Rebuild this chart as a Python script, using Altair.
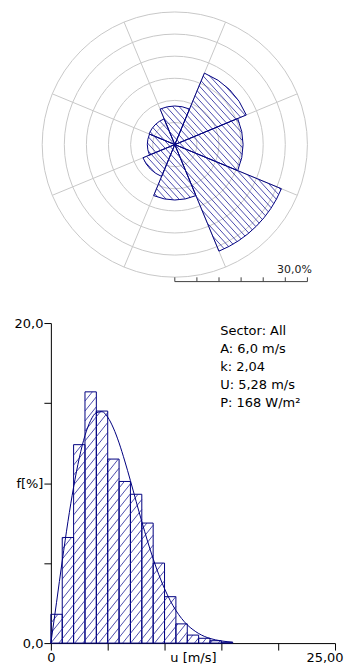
import math
import numpy as np
import pandas as pd
import altair as alt

# ---------------- data ----------------
# wind rose (8 sectors, frequency in %)
sector_names = ["N", "NE", "E", "SE", "S", "SW", "W", "NW"]
sector_centers = [0, 45, 90, 135, 180, 225, 270, 315]
sector_freq = [8.7, 17.5, 15.4, 26.1, 12.5, 7.8, 6.2, 6.3]
ring_values = [5, 10, 15, 20, 25, 30]
spoke_angles = [22.5, 67.5, 112.5, 157.5, 202.5, 247.5, 292.5, 337.5]
scale_ticks = [0, 5, 10, 15, 20, 25, 30]
scale_label = "30,0%"

# histogram of wind speed (1 m/s bins, frequency in %)
bin_start = [0, 1, 2, 3, 4, 5, 6, 7, 8, 9, 10, 11, 12, 13, 14, 15]
bin_end = [1, 2, 3, 4, 5, 6, 7, 8, 9, 10, 11, 12, 13, 14, 15, 16]
bin_freq = [1.8, 6.6, 12.4, 15.7, 14.5, 11.5, 10.1, 9.3, 7.5, 5.0, 2.9, 1.2, 0.5, 0.3, 0.15, 0.05]

# fitted curve
curve_u = [0, 0.5, 1, 1.5, 2, 2.5, 3, 3.5, 4, 4.5, 5, 5.5, 6, 6.5, 7, 7.5, 8, 8.5,
           9, 9.5, 10, 10.5, 11, 11.5, 12, 12.5, 13, 13.5, 14, 14.5, 15, 15.5, 16]
curve_f = [0, 2.55, 5.14, 7.58, 9.75, 11.57, 12.97, 13.91, 14.40, 14.46, 14.12, 13.44,
           12.51, 11.38, 10.15, 8.86, 7.59, 6.38, 5.27, 4.27, 3.40, 2.66, 2.04, 1.54,
           1.14, 0.84, 0.60, 0.42, 0.29, 0.20, 0.135, 0.09, 0.055]

info_lines = ["Sector: All", "A: 6,0 m/s", "k: 2,04", "U: 5,28 m/s", "P: 168 W/m²"]

x_ticks = [0, 5, 10, 15, 20, 25]
x_tick_labels = ["0", "", "", "", "", "25,00"]
x_title = "u [m/s]"
y_ticks = [0, 5, 10, 15, 20]
y_tick_labels = ["0,0", "", "f[%]", "", "20,0"]

# ---------------- styling / layout ----------------
NAVY = "#000080"
HATCH = "#1f1f99"
GRID = "#c8c8c8"
FONT = "DejaVu Sans"

ROSE_W, ROSE_H = 285, 280
R_MAX = 30.0
R_PX = 133.0
PX = R_PX / R_MAX
CX = 124.3
rose_x_dom = [-CX / PX, (ROSE_W - CX) / PX]
rose_y_dom = [R_MAX - ROSE_H / PX, R_MAX]
BAR_Y = -31.0

HIST_W, HIST_H = 285, 321
X_MAX, Y_MAX = 25, 20
SX = HIST_W / X_MAX
SY = HIST_H / Y_MAX


def cross(a, b):
    return a[0] * b[1] - a[1] * b[0]


def rose_hatch(centers, freqs, half=22.5, gap_px=6.5, slope=1.1):
    rows = []
    n = np.array([slope, 1.0])
    nlen = np.linalg.norm(n)
    nu = n / nlen
    d = np.array([1.0, -slope])
    d = d / np.linalg.norm(d)
    step = slope * gap_px / PX / nlen
    for c, f in zip(centers, freqs):
        a0 = math.radians(c - half)
        a1 = math.radians(c + half)
        u0 = np.array([math.sin(a0), math.cos(a0)])
        u1 = np.array([math.sin(a1), math.cos(a1)])
        kmax = int(f / step) + 1
        for k in range(-kmax, kmax + 1):
            dist = k * step
            if abs(dist) >= f:
                continue
            q = dist * nu
            hl = math.sqrt(f * f - dist * dist)
            lo, hi = -hl, hl
            for b, kk in ((cross(u0, q), cross(u0, d)), (cross(q, u1), cross(d, u1))):
                if abs(kk) < 1e-12:
                    if b > 0:
                        lo, hi = 1.0, 0.0
                elif kk > 0:
                    hi = min(hi, -b / kk)
                else:
                    lo = max(lo, -b / kk)
            if hi - lo > 1e-6:
                p1 = q + lo * d
                p2 = q + hi * d
                rows.append({"x": p1[0], "y": p1[1], "x2": p2[0], "y2": p2[1]})
    return pd.DataFrame(rows)


def hist_hatch(starts, ends, freqs, gap_px=10.0, slope=1.25):
    rows = []
    for u0, u1, f in zip(starts, ends, freqs):
        X0, X1, H = u0 * SX, u1 * SX, f * SY
        kmin = math.floor(-slope * X1 / gap_px)
        kmax = math.ceil((H - slope * X0) / gap_px)
        for k in range(kmin, kmax + 1):
            c = k * gap_px
            xa = max(X0, -c / slope)
            xb = min(X1, (H - c) / slope)
            if xb - xa > 0.3:
                rows.append({"x": xa / SX, "y": (slope * xa + c) / SY,
                             "x2": xb / SX, "y2": (slope * xb + c) / SY})
    return pd.DataFrame(rows)


def label_expr(values, labels):
    parts = [f"datum.value == {v} ? '{l}'" for v, l in zip(values, labels)]
    return " : ".join(parts) + " : ''"


# ---------------- wind rose ----------------
xs = alt.Scale(domain=rose_x_dom, nice=False, zero=False)
ys = alt.Scale(domain=rose_y_dom, nice=False, zero=False)
rs = alt.Scale(type="linear", domain=[0, R_MAX], range=[0, R_PX], zero=True, nice=False)
ts = alt.Scale(domain=[0, 360], range=[0, 2 * math.pi], zero=False, nice=False)

cx = alt.X(datum=0, scale=xs, axis=None)
cy = alt.Y(datum=0, scale=ys, axis=None)

rings_df = pd.DataFrame({"r": ring_values})
rings = alt.Chart(rings_df).mark_arc(
    filled=False, color=GRID, strokeWidth=1, theta=0, theta2=2 * math.pi
).encode(radius=alt.Radius("r:Q", scale=rs, stack=False), x=cx, y=cy)

spokes_df = pd.DataFrame({
    "x0": [0.0] * len(spoke_angles),
    "y0": [0.0] * len(spoke_angles),
    "x1": [R_MAX * math.sin(math.radians(a)) for a in spoke_angles],
    "y1": [R_MAX * math.cos(math.radians(a)) for a in spoke_angles],
})
spokes = alt.Chart(spokes_df).mark_rule(color=GRID, strokeWidth=1).encode(
    x=alt.X("x0:Q", scale=xs, axis=None), y=alt.Y("y0:Q", scale=ys, axis=None),
    x2="x1:Q", y2="y1:Q")

sec_df = pd.DataFrame({
    "sector": sector_names,
    "a0": [c - 22.5 for c in sector_centers],
    "a1": [c + 22.5 for c in sector_centers],
    "f": sector_freq,
})
sectors = alt.Chart(sec_df).mark_arc(filled=False, color=NAVY, strokeWidth=1).encode(
    theta=alt.Theta("a0:Q", scale=ts, stack=False), theta2="a1:Q",
    radius=alt.Radius("f:Q", scale=rs, stack=False), x=cx, y=cy)

rh_df = rose_hatch(sector_centers, sector_freq)
rhatch = alt.Chart(rh_df).mark_rule(color=HATCH, strokeWidth=0.8).encode(
    x=alt.X("x:Q", scale=xs, axis=None), y=alt.Y("y:Q", scale=ys, axis=None),
    x2="x2:Q", y2="y2:Q")

bar_df = pd.DataFrame({"a": [min(scale_ticks)], "b": [max(scale_ticks)]})
sbar = alt.Chart(bar_df).mark_rule(color="#404040", strokeWidth=1).encode(
    x=alt.X("a:Q", scale=xs, axis=None), x2="b:Q",
    y=alt.Y(datum=BAR_Y, scale=ys, axis=None))

tick_df = pd.DataFrame({"t": scale_ticks})
sticks = alt.Chart(tick_df).mark_rule(color="#404040", strokeWidth=1).encode(
    x=alt.X("t:Q", scale=xs, axis=None),
    y=alt.Y(datum=BAR_Y, scale=ys, axis=None),
    y2=alt.Y2(datum=BAR_Y + 4.3 / PX))

slabel = alt.Chart(pd.DataFrame({"s": [scale_label]})).mark_text(
    align="right", baseline="alphabetic", font=FONT, fontSize=11, color="#202020"
).encode(x=alt.X(datum=31.0, scale=xs, axis=None),
         y=alt.Y(datum=-29.1, scale=ys, axis=None), text="s:N")

rose = alt.layer(rings, spokes, sectors, rhatch, sbar, sticks, slabel).properties(
    width=ROSE_W, height=ROSE_H)

# ---------------- histogram ----------------
hx = alt.Scale(domain=[0, X_MAX], nice=False, zero=True)
hy = alt.Scale(domain=[0, Y_MAX], nice=False, zero=True)
last_test = f"datum.value == {x_ticks[-1]}"
x_axis = alt.Axis(values=x_ticks, labelExpr=label_expr(x_ticks, x_tick_labels),
                  labelAlign={"condition": {"test": last_test, "value": "right"}, "value": "center"},
                  labelOffset={"condition": {"test": last_test, "value": 8}, "value": 0},
                  title=x_title, titleY=8, titleBaseline="top", titleFontWeight="normal",
                  titleFontSize=13, titleFont=FONT, titleColor="#000000",
                  labelFlush=False, labelOverlap=False, grid=False, tickSize=7,
                  labelPadding=1)
y_axis = alt.Axis(values=y_ticks, labelExpr=label_expr(y_ticks, y_tick_labels),
                  title=None, labelFlush=False, labelOverlap=False, grid=False,
                  tickSize=7, labelPadding=1)

hist_df = pd.DataFrame({"u0": bin_start, "u1": bin_end, "f": bin_freq})
bars = alt.Chart(hist_df).mark_rect(filled=False, color=NAVY, strokeWidth=1).encode(
    x=alt.X("u0:Q", scale=hx, axis=x_axis), x2="u1:Q",
    y=alt.Y("f:Q", scale=hy, axis=y_axis), y2=alt.Y2(datum=0))

hh_df = hist_hatch(bin_start, bin_end, bin_freq)
hhatch = alt.Chart(hh_df).mark_rule(color=HATCH, strokeWidth=0.8).encode(
    x=alt.X("x:Q", scale=hx, axis=x_axis), y=alt.Y("y:Q", scale=hy, axis=y_axis),
    x2="x2:Q", y2="y2:Q")

curve_df = pd.DataFrame({"u": curve_u, "f": curve_f})
curve = alt.Chart(curve_df).mark_line(color=NAVY, strokeWidth=1, interpolate="monotone").encode(
    x=alt.X("u:Q", scale=hx, axis=x_axis), y=alt.Y("f:Q", scale=hy, axis=y_axis))

info = alt.Chart(pd.DataFrame({"k": [0]})).mark_text(
    align="left", baseline="top", font=FONT, fontSize=13, lineHeight=18,
    color="#000000", text=info_lines
).encode(x=alt.X(datum=14.9, scale=hx, axis=x_axis),
         y=alt.Y(datum=19.85, scale=hy, axis=y_axis))

hist = alt.layer(bars, hhatch, curve, info).properties(width=HIST_W, height=HIST_H)

chart = alt.vconcat(rose, hist, spacing=32, bounds="flush").properties(
    padding={"left": 5, "top": 0, "right": 0, "bottom": 2}
).configure_view(stroke="transparent").configure_axis(
    labelFont=FONT, labelFontSize=13, labelColor="#000000",
    domainColor="#000000", tickColor="#000000", domainWidth=1, tickWidth=1
)

chart.save("out.html", embed_options={"renderer": "svg", "actions": False})
